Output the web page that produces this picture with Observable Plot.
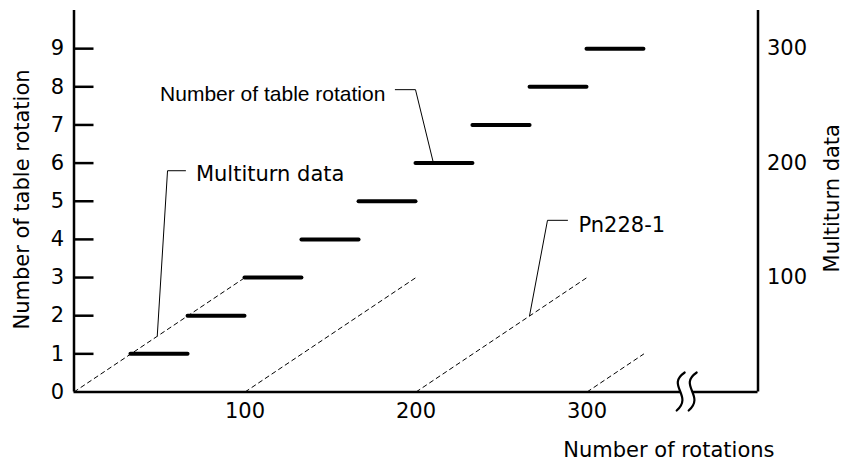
<!DOCTYPE html>
<html>
<head>
<meta charset="utf-8">
<script src="https://cdn.jsdelivr.net/npm/d3@7"></script>
<script src="https://cdn.jsdelivr.net/npm/@observablehq/plot@0.6"></script>
<style>
  html, body { margin: 0; padding: 0; background: #ffffff; }
  #chart svg { display: block; }
</style>
</head>
<body>
<div id="chart"></div>
<script>
// ---- data ----
const stepLevels = [1, 2, 3, 4, 5, 6, 7, 8, 9];
const stepStarts = [33.3, 66.7, 100, 133.3, 166.7, 200, 233.3, 266.7, 300];
const stepEnds   = [66.7, 100, 133.3, 166.7, 200, 233.3, 266.7, 300, 333.3];

const rampX1 = [0, 100, 200, 300];
const rampY1 = [0, 0, 0, 0];
const rampX2 = [100, 200, 300, 333.3];
const rampY2 = [3, 3, 3, 1];

const xTickValues = [100, 200, 300];
const yTickValues = [0, 1, 2, 3, 4, 5, 6, 7, 8, 9];
const multiturnTickValues = [100, 200, 300];
const multiturnPerTableRotation = 100 / 3;

const xDomain = [0, 400];
const yDomain = [0, 10];
const breakAt = 358;

const xTitle = "Number of rotations";
const yTitle = "Number of table rotation";
const y2Title = "Multiturn data";

const noteTexts = ["Multiturn data", "Number of table rotation", "Pn228-1"];
const noteX = [71.3, 182.1, 295];
const noteY = [5.70, 7.81, 4.36];
const noteAnchor = ["start", "end", "start"];
const noteFont = ["DejaVu Sans", "Liberation Sans", "DejaVu Sans"];
const leaderX = [[48.7, 54.7, 65.2], [187.9, 199.7, 210.2], [266.4, 276.9, 288.6]];
const leaderY = [[1.48, 5.80, 5.80], [7.925, 7.925, 6.0], [2.0, 4.50, 4.50]];

// ---- layout ----
const W = 843, H = 461;
const mL = 73.5, mR = 85.5, mT = 10, mB = 69.5;
const frameW = W - mL - mR;
const tickLen = 20;
const FONT = "DejaVu Sans";
const FS = 21;

// ---- derived tables ----
const steps = stepLevels.map((lv, i) => ({level: lv, start: stepStarts[i], end: stepEnds[i]}));
const ramps = rampX1.map((x1, i) => ({x1, y1: rampY1[i], x2: rampX2[i], y2: rampY2[i]}));
const notes = noteTexts.map((t, i) => ({text: t, x: noteX[i], y: noteY[i]}));
const leaders = leaderX.flatMap((xs, k) => xs.map((x, j) => ({k, x, y: leaderY[k][j]})));

function breakMark(index, scales) {
  const cx = scales.x(breakAt), cy = scales.y(0);
  const g = d3.create("svg:g");
  const c1 = cx - 6, c2 = cx + 6;
  const seg = (c) => `M${c + 5},${cy - 19} C${c - 14},${cy - 6} ${c + 14},${cy + 4} ${c - 3},${cy + 19}`;
  const fill = `M${c1 + 5},${cy - 19} C${c1 - 14},${cy - 6} ${c1 + 14},${cy + 4} ${c1 - 3},${cy + 19} L${c2 - 3},${cy + 19} C${c2 + 14},${cy + 4} ${c2 - 14},${cy - 6} ${c2 + 5},${cy - 19} Z`;
  g.append("path").attr("d", fill).attr("fill", "white").attr("stroke", "none");
  for (const c of [c1, c2]) {
    g.append("path").attr("d", seg(c)).attr("fill", "none").attr("stroke", "black")
      .attr("stroke-width", 2.2).attr("stroke-linecap", "round");
  }
  return g.node();
}

const chart = Plot.plot({
  width: W, height: H,
  marginLeft: mL, marginRight: mR, marginTop: mT, marginBottom: mB,
  style: {fontFamily: FONT, fontSize: FS + "px", color: "black", background: "white"},
  x: {domain: xDomain},
  y: {domain: yDomain},
  marks: [
    Plot.link(ramps, {x1: "x1", y1: "y1", x2: "x2", y2: "y2", stroke: "black", strokeWidth: 1, strokeDasharray: "5,3"}),
    Plot.ruleY(steps, {y: "level", x1: "start", x2: "end", stroke: "black", strokeWidth: 4, strokeLinecap: "round"}),
    Plot.line(leaders, {x: "x", y: "y", z: "k", stroke: "black", strokeWidth: 1, curve: "linear"}),
    ...notes.map((n, i) => Plot.text([n], {x: "x", y: "y", text: "text", textAnchor: noteAnchor[i], lineAnchor: "middle", fontFamily: noteFont[i], fontSize: FS, fill: "black"})),
    Plot.ruleY([0], {stroke: "black", strokeWidth: 2.5}),
    Plot.ruleX([xDomain[0]], {stroke: "black", strokeWidth: 2.5}),
    Plot.ruleX([xDomain[1]], {stroke: "black", strokeWidth: 2.5}),
    Plot.tickY(yTickValues.slice(1), {stroke: "black", strokeWidth: 2.5, insetRight: frameW - tickLen}),
    Plot.axisY({ticks: yTickValues, tickSize: 0, tickPadding: 10, label: null, fontSize: FS}),
    Plot.axisX({ticks: xTickValues, tickSize: 0, tickPadding: 11, label: null, fontSize: FS}),
    Plot.text(multiturnTickValues, {y: d => d / multiturnPerTableRotation, text: d => String(d), frameAnchor: "right", dx: 9, textAnchor: "start", lineAnchor: "middle", fontSize: FS}),
    breakMark,
    Plot.text([yTitle], {frameAnchor: "left", dx: -52, dy: -1.75, rotate: -90, textAnchor: "middle", lineAnchor: "middle", fontSize: FS}),
    Plot.text([y2Title], {frameAnchor: "right", dx: 74, dy: -3, rotate: -90, textAnchor: "middle", lineAnchor: "middle", fontSize: FS}),
    Plot.text([xTitle], {frameAnchor: "bottom-right", dx: 16.5, dy: 58.5, textAnchor: "end", lineAnchor: "middle", fontSize: FS})
  ]
});
document.getElementById("chart").appendChild(chart);
</script>
</body>
</html>
